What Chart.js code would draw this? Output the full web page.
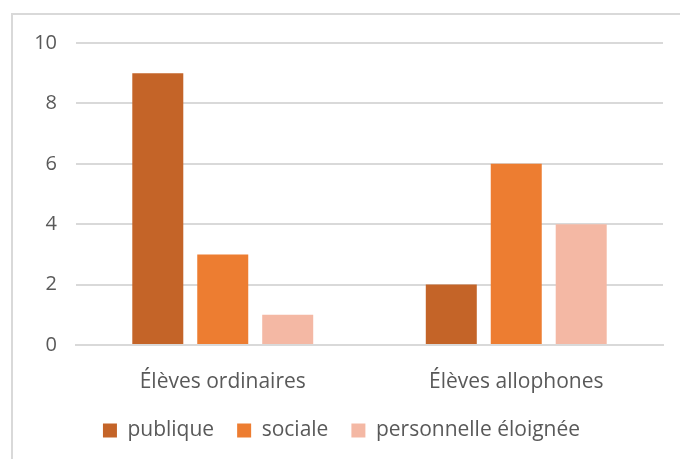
<!DOCTYPE html>
<html>
<head>
<meta charset="utf-8">
<script src="https://cdn.jsdelivr.net/npm/chart.js@4/dist/chart.umd.min.js"></script>
<style>
  body { margin: 0; background: #fff; }
  #wrap { position: relative; width: 680px; height: 459px; }
  #frame { position: absolute; left: 11px; top: 13px; width: 680px; height: 460px;
           border: 2px solid #d9d9d9; pointer-events: none; }
  canvas { position: absolute; left: 0; top: 0; }
</style>
</head>
<body>
<div id="wrap">
  <canvas id="myChart" width="680" height="459"></canvas>
  <div id="frame"></div>
</div>
<script>
var categories = ["Élèves ordinaires", "Élèves allophones"];
var seriesNames = ["publique", "sociale", "personnelle éloignée"];
var publique = [9, 2];
var sociale = [3, 6];
var personnelle = [1, 4];
var colors = ["#C46428", "#ED7D31", "#F4B8A4"];

var font = "'Open Sans', 'Noto Sans', sans-serif";

// keep the legend short even with wide horizontal padding between items
var legendHeight = {
  id: 'legendHeight',
  afterInit: function (chart) {
    var lg = chart.legend;
    if (!lg) return;
    var fit = lg.fit;
    lg.fit = function () {
      fit.call(this);
      this.height = 55;
    };
  }
};

var ctx = document.getElementById("myChart");
var myChart = new Chart(ctx, {
  type: 'bar',
  data: {
    labels: categories,
    datasets: [
      { label: seriesNames[0], data: publique, backgroundColor: colors[0] },
      { label: seriesNames[1], data: sociale, backgroundColor: colors[1] },
      { label: seriesNames[2], data: personnelle, backgroundColor: colors[2] }
    ]
  },
  plugins: [legendHeight],
  options: {
    responsive: false,
    animation: false,
    layout: { padding: { left: 20, right: 17, top: 43, bottom: 7 } },
    datasets: {
      bar: { barPercentage: 0.785, categoryPercentage: 0.664 }
    },
    scales: {
      x: {
        grid: { display: false },
        border: { color: "#d9d9d9", width: 2 },
        ticks: { color: "#595959", font: { family: font, size: 21 }, padding: 16 },
        afterFit: function (scale) { scale.height = 52; }
      },
      y: {
        min: 0,
        max: 10,
        ticks: { stepSize: 2, color: "#595959", font: { family: font, size: 20 }, padding: 19 },
        grid: { color: "#d9d9d9", lineWidth: 2, drawTicks: false },
        border: { display: false },
        afterFit: function (scale) { scale.width = 56; }
      }
    },
    plugins: {
      legend: {
        position: 'bottom',
        labels: {
          color: "#595959",
          font: { family: font, size: 21 },
          boxWidth: 14,
          boxHeight: 14,
          padding: 23
        }
      },
      tooltip: { enabled: false }
    }
  }
});
</script>
</body>
</html>
